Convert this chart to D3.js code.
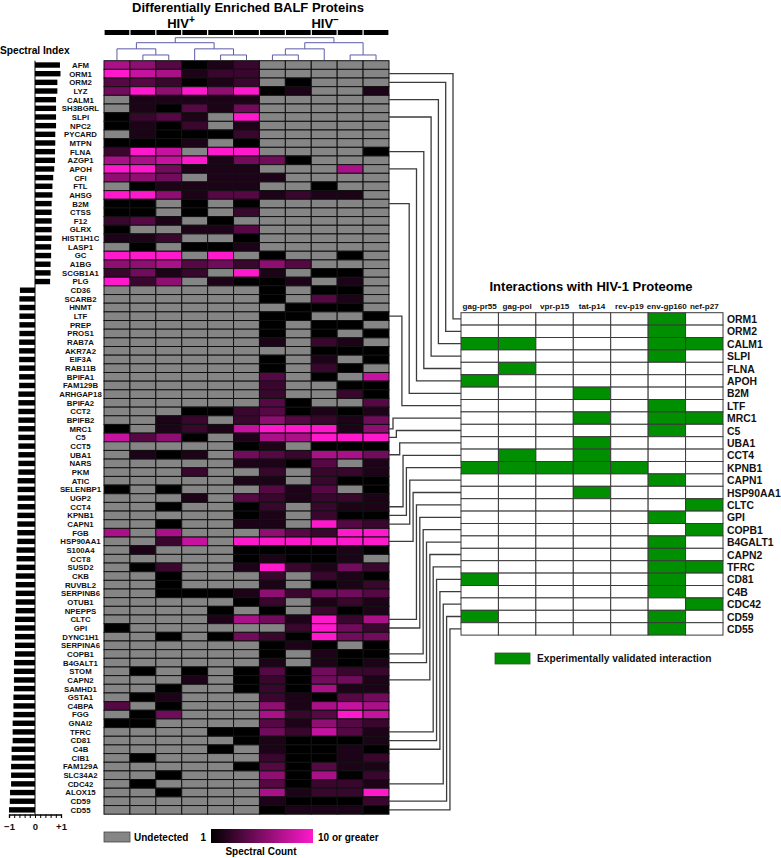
<!DOCTYPE html>
<html><head><meta charset="utf-8">
<script src="https://cdn.jsdelivr.net/npm/d3@7"></script>
<style>
body{margin:0;background:#fff;}
text{font-family:"Liberation Sans",Arial,Helvetica,sans-serif;font-weight:bold;}
</style>
</head><body>
<svg id="c" width="781" height="858"></svg>
<script>
// ---------------- DATA ----------------
const proteins = ["AFM","ORM1","ORM2","LYZ","CALM1","SH3BGRL","SLPI","NPC2","PYCARD","MTPN","FLNA","AZGP1","APOH","CFI","FTL","AHSG","B2M","CTSS","F12","GLRX","HIST1H1C","LASP1","GC","A1BG","SCGB1A1","PLG",
"CD36","SCARB2","HNMT","LTF","PREP","PROS1","RAB7A","AKR7A2","EIF3A","RAB11B","BPIFA1","FAM129B","ARHGAP18","BPIFA2","CCT2","BPIFB2","MRC1","C5","CCT5","UBA1","NARS","PKM","ATIC","SELENBP1","UGP2","CCT4","KPNB1","CAPN1","FGB","HSP90AA1","S100A4",
"CCT8","SUSD2","CKB","RUVBL2","SERPINB6","OTUB1","NPEPPS","CLTC","GPI","DYNC1H1","SERPINA6","COPB1","B4GALT1","STOM","CAPN2","SAMHD1","GSTA1","C4BPA","FGG","GNAI2","TFRC","CD81","C4B","CIB1","FAM129A","SLC34A2","CDC42","ALOX15","CD59","CD55"];

const spectralIndex = [0.96,0.98,0.86,0.86,0.81,0.81,0.81,0.81,0.78,0.78,0.77,0.77,0.74,0.70,0.67,0.67,0.64,0.64,0.64,0.64,0.64,0.62,0.62,0.60,0.60,0.58,
-0.58,-0.60,-0.60,-0.60,-0.60,-0.60,-0.61,-0.61,-0.61,-0.61,-0.61,-0.61,-0.64,-0.64,-0.64,-0.64,-0.64,-0.64,-0.64,-0.64,-0.64,-0.64,-0.67,-0.67,-0.67,-0.67,-0.68,-0.68,-0.68,-0.68,-0.71,
-0.71,-0.71,-0.74,-0.74,-0.74,-0.74,-0.74,-0.77,-0.77,-0.77,-0.77,-0.77,-0.81,-0.81,-0.81,-0.81,-0.83,-0.83,-0.83,-0.86,-0.86,-0.86,-0.90,-0.90,-0.92,-0.92,-0.92,-0.96,-0.97,-1.00];

const samples = ["HIV+ 1","HIV+ 2","HIV+ 3","HIV+ 4","HIV+ 5","HIV+ 6","HIV- 1","HIV- 2","HIV- 3","HIV- 4","HIV- 5"];

// spectral counts per protein (0 = undetected, values >=10 shown as 10)
const spectralCounts = [
[7,6,4,1,2,3,0,0,0,0,0],[10,8,7,2,3,3,0,0,0,0,0],[4,4,3,1,2,3,0,1,0,0,0],[5,10,6,10,6,10,1,2,0,0,2],
[0,2,2,2,2,2,0,0,0,0,0],[0,2,1,4,2,5,0,0,0,0,0],[1,3,4,2,0,10,0,0,0,0,0],[1,2,1,3,0,2,0,0,0,0,0],
[0,2,1,1,1,3,0,0,0,0,0],[1,1,1,2,0,1,0,0,0,0,0],[3,10,8,0,10,10,0,0,0,0,1],[7,7,8,10,2,5,5,1,0,0,0],
[10,10,5,2,2,2,0,0,0,7,0],[6,6,5,0,2,2,2,0,0,0,0],[0,1,2,2,2,2,0,0,1,0,0],[10,10,6,2,4,4,2,3,2,2,0],
[1,1,0,1,0,1,0,0,0,0,0],[1,1,0,1,0,3,0,0,0,0,0],[3,4,2,0,1,0,0,0,0,0,0],[1,0,0,2,2,4,0,0,0,0,0],
[2,2,3,0,0,1,0,0,0,0,0],[0,1,0,1,1,2,0,0,0,0,0],[10,10,10,0,10,0,1,0,0,1,0],[6,6,7,4,5,3,6,4,0,0,0],
[3,5,2,3,0,10,2,0,1,1,0],[10,3,6,0,2,1,1,2,0,2,0],
[0,0,0,0,0,0,1,0,1,1,0],[0,0,0,0,0,0,1,0,4,2,0],[0,0,0,0,0,0,0,1,1,1,0],[0,0,0,0,0,0,1,1,0,0,1],
[0,0,0,0,0,0,1,0,1,1,0],[0,0,0,0,0,0,1,0,1,0,1],[0,0,0,0,0,0,2,0,3,2,0],[0,0,0,0,0,0,0,0,1,1,1],
[0,0,0,0,0,0,1,0,2,0,1],[0,0,0,0,0,0,1,0,3,1,0],[0,0,0,0,0,0,4,0,1,0,8],[0,0,0,0,0,0,3,0,0,1,1],
[0,0,0,0,0,0,3,0,0,3,1],[0,0,0,0,0,0,4,1,0,0,4],[0,0,0,1,1,3,4,1,2,1,2],[0,0,2,3,0,3,6,4,3,2,5],
[1,0,2,3,2,8,10,10,10,2,6],[8,4,6,1,0,2,7,7,10,10,10],[0,0,0,0,0,1,2,0,1,1,1],[0,2,1,2,0,5,4,3,7,7,5],
[0,0,0,0,0,2,2,1,4,0,2],[0,0,0,3,0,0,3,0,3,3,2],[0,0,0,0,0,2,2,0,3,1,1],[1,0,1,0,0,0,4,2,4,0,1],
[0,0,0,2,0,4,3,2,3,3,2],[0,0,1,0,0,1,3,0,3,2,2],[0,0,0,0,0,1,2,0,3,1,1],[0,0,1,0,0,2,2,0,10,4,3],
[7,0,7,0,0,0,6,4,3,10,10],[0,0,3,8,0,10,10,10,10,10,10],[0,2,0,0,0,1,1,1,1,2,1],
[0,0,0,0,0,1,2,1,1,2,0],[0,1,3,0,0,2,10,3,2,5,3],[0,0,1,0,0,0,3,0,3,2,1],[0,0,1,0,0,0,2,0,1,2,3],
[0,0,1,1,1,2,6,3,5,5,4],[0,0,0,0,0,1,3,0,2,3,2],[0,0,0,0,1,0,1,0,3,1,2],[0,0,0,0,2,7,5,2,10,3,7],
[1,0,0,0,0,0,0,3,10,5,3],[0,0,1,0,1,5,3,1,10,5,5],[0,0,0,0,0,0,1,2,1,0,1],[0,0,0,0,0,0,1,0,2,1,1],
[0,0,0,0,0,0,2,0,2,1,2],[0,1,0,1,0,1,4,1,5,3,3],[0,0,0,2,0,1,3,1,5,5,2],[0,0,1,0,0,1,3,1,7,2,2],
[0,1,2,0,0,0,3,2,1,4,5],[4,0,1,0,0,0,6,2,7,8,7],[0,1,5,0,0,0,7,3,4,10,8],[1,1,0,0,0,0,4,2,6,4,3],
[0,0,0,0,1,1,5,3,8,4,2],[0,0,0,0,0,1,2,1,1,1,2],[0,0,0,0,1,0,2,1,1,2,1],[0,1,0,0,0,0,3,1,1,2,3],
[0,0,0,0,0,1,4,1,4,2,2],[0,0,1,0,0,0,6,1,7,1,3],[0,1,0,0,0,0,4,1,3,3,2],[0,0,1,0,0,0,7,2,3,3,10],
[0,0,0,0,0,0,2,1,1,1,3],[0,0,0,0,0,0,1,2,2,2,1]
];

// sample clustering (leaf = sample index, h = merge distance)
const dendrogram = {h:4, children:[
  {h:3.1, children:[
    {h:2, children:[{leaf:0},{h:0.9, children:[{leaf:1},{leaf:2}]}]},
    {h:2, children:[{leaf:3},{h:0.9, children:[{leaf:4},{leaf:5}]}]}
  ]},
  {h:3.1, children:[
    {h:2, children:[{h:0.9, children:[{leaf:6},{leaf:7}]},{leaf:8}]},
    {h:0.9, children:[{leaf:9},{leaf:10}]}
  ]}
]};

const hivProteins = ["gag-pr55","gag-pol","vpr-p15","tat-p14","rev-p19","env-gp160","nef-p27"];
const interactionProteins = ["ORM1","ORM2","CALM1","SLPI","FLNA","APOH","B2M","LTF","MRC1","C5","UBA1","CCT4","KPNB1","CAPN1","HSP90AA1","CLTC","GPI","COPB1","B4GALT1","CAPN2","TFRC","CD81","C4B","CDC42","CD59","CD55"];
const interactions = [
["env-gp160"],["env-gp160"],["gag-pr55","gag-pol","env-gp160","nef-p27"],["env-gp160"],["gag-pol"],["gag-pr55"],
["tat-p14"],["env-gp160"],["tat-p14","env-gp160","nef-p27"],["env-gp160"],["tat-p14"],["gag-pol","tat-p14"],
["gag-pr55","gag-pol","vpr-p15","tat-p14","rev-p19"],["env-gp160"],["tat-p14"],["nef-p27"],["env-gp160"],["nef-p27"],
["env-gp160"],["env-gp160"],["env-gp160","nef-p27"],["gag-pr55","env-gp160"],["env-gp160"],["nef-p27"],
["gag-pr55","env-gp160"],["env-gp160"]
];

const indexTicks = [-1,-0.8,-0.6,-0.4,-0.2,0,0.2,0.4,0.6,0.8,1];
const indexTickLabels = {"-1":"\u22121","0":"0","1":"+1"};

// ---------------- DRAW ----------------
const svg = d3.select("#c");
const GRAY = "#858585", MAG = "#ff19cc", GREEN = "#008f00";

const x = d3.scaleBand().domain(d3.range(samples.length)).range([104, 389]);
const y = d3.scaleBand().domain(proteins).range([60.7, 814.2]);
const color = d3.scaleLinear().domain([1,10]).range(["#000000", MAG]).clamp(true);
const siX = d3.scaleLinear().domain([-1,1]).range([9,61]);

// title
svg.append("text").attr("x",248).attr("y",12).attr("text-anchor","middle").attr("font-size",13)
  .text("Differentially Enriched BALF Proteins");
const hp = svg.append("text").attr("x",181).attr("y",28).attr("text-anchor","middle").attr("font-size",13);
hp.append("tspan").text("HIV");
hp.append("tspan").attr("dy",-5).attr("font-size",10).text("+");
const hn = svg.append("text").attr("x",325).attr("y",28).attr("text-anchor","middle").attr("font-size",13);
hn.append("tspan").text("HIV");
hn.append("tspan").attr("dy",-5).attr("font-size",10).text("\u2013");

// group header bars
svg.append("g").selectAll("rect").data(samples).join("rect")
  .attr("x",(d,i)=>x(i)+0.6).attr("width",x.bandwidth()-1.2)
  .attr("y",30).attr("height",5).attr("fill","#000");

// dendrogram
const hier = d3.hierarchy(dendrogram);
const dh = d3.scaleLinear().domain([0,4]).range([60,37.7]);
hier.eachAfter(n=>{
  if (n.data.leaf!==undefined){ n.px = x(n.data.leaf)+x.bandwidth()/2; n.py = dh(0); }
  else { n.px = d3.mean(n.children, c=>c.px); n.py = dh(n.data.h); }
});
const dg = svg.append("g").attr("fill","none").attr("stroke","#5b5ba8").attr("stroke-width",1);
hier.descendants().filter(n=>n.children).forEach(n=>{
  const [a,b] = n.children;
  dg.append("path").attr("d",`M${a.px},${a.py}V${n.py}H${b.px}V${b.py}`);
});

// heatmap
const hm = svg.append("g");
proteins.forEach((p,ri)=>{
  hm.selectAll(null).data(spectralCounts[ri]).join("rect")
    .attr("x",(d,i)=>x(i)).attr("y",y(p)).attr("width",x.bandwidth()).attr("height",y.bandwidth())
    .attr("fill",d=> d===0 ? GRAY : color(d))
    .attr("stroke","#111").attr("stroke-width",1);
});

// row labels
svg.append("g").selectAll("text").data(proteins).join("text")
  .attr("x",80.5).attr("y",d=>y(d)+y.bandwidth()/2+2.9).attr("text-anchor","middle")
  .attr("font-size",7.8).attr("fill","#111").text(d=>d);

// spectral index
svg.append("text").attr("x",0).attr("y",54).attr("font-size",10.2).text("Spectral Index");
svg.append("g").selectAll("rect").data(proteins).join("rect")
  .attr("x",(d,i)=>Math.min(siX(0),siX(spectralIndex[i])))
  .attr("width",(d,i)=>Math.abs(siX(spectralIndex[i])-siX(0)))
  .attr("y",d=>y(d)+y.bandwidth()/2-2.7).attr("height",5.4).attr("fill","#000");
svg.append("line").attr("x1",siX(0)).attr("x2",siX(0)).attr("y1",y.range()[0]).attr("y2",814)
  .attr("stroke","#000").attr("stroke-width",1);
const ax = svg.append("g").attr("transform","translate(0,814.5)")
  .call(d3.axisBottom(siX).tickValues(indexTicks).tickSizeOuter(0).tickSize(3.5)
     .tickFormat(d=> indexTickLabels[String(Math.round(d*10)/10)]||""));
ax.select(".domain").attr("stroke","#000").attr("stroke-width",1.3);
ax.selectAll(".tick line").attr("stroke","#000").attr("stroke-width",1);
ax.selectAll(".tick text").attr("font-size",9.5).attr("font-family","Liberation Sans, Arial, sans-serif")
  .attr("font-weight","bold").attr("fill","#111").attr("dy","0.9em");

// legend
const defs = svg.append("defs");
const lg = defs.append("linearGradient").attr("id","grad");
d3.range(0,1.01,0.1).forEach(t=>lg.append("stop").attr("offset",t).attr("stop-color",color(1+9*t)));
svg.append("rect").attr("x",104).attr("y",832).attr("width",26).attr("height",10).attr("fill",GRAY).attr("stroke","#444").attr("stroke-width",0.8);
svg.append("text").attr("x",134).attr("y",840.5).attr("font-size",10).text("Undetected");
svg.append("text").attr("x",206).attr("y",840.5).attr("text-anchor","end").attr("font-size",10).text("1");
svg.append("rect").attr("x",211).attr("y",829).attr("width",102).attr("height",14).attr("fill","url(#grad)");
svg.append("text").attr("x",318).attr("y",840.5).attr("font-size",10).text("10 or greater");
svg.append("text").attr("x",261).attr("y",855).attr("text-anchor","middle").attr("font-size",10).text("Spectral Count");

// interaction table
const tx = d3.scaleBand().domain(hivProteins).range([461, 723]);
const ty = d3.scaleBand().domain(interactionProteins).range([312.7, 635.1]);
svg.append("text").attr("x",591).attr("y",291).attr("text-anchor","middle").attr("font-size",13)
  .text("Interactions with HIV-1 Proteome");
svg.append("g").selectAll("text").data(hivProteins).join("text")
  .attr("x",d=>tx(d)+tx.bandwidth()/2).attr("y",308.5).attr("text-anchor","middle")
  .attr("font-size",8.1).attr("fill","#111").text(d=>d);
const tg = svg.append("g");
interactionProteins.forEach((p,ri)=>{
  tg.selectAll(null).data(hivProteins).join("rect")
    .attr("x",d=>tx(d)).attr("y",ty(p)).attr("width",tx.bandwidth()).attr("height",ty.bandwidth())
    .attr("fill",d=> interactions[ri].includes(d) ? GREEN : "#fff")
    .attr("stroke","#3a3a3a").attr("stroke-width",1);
});
svg.append("g").selectAll("text").data(interactionProteins).join("text")
  .attr("x",727).attr("y",d=>ty(d)+ty.bandwidth()/2+4).attr("font-size",10.4).attr("fill","#111").text(d=>d);

svg.append("rect").attr("x",495).attr("y",653).attr("width",35).attr("height",11).attr("fill",GREEN).attr("stroke","#2a5a2a").attr("stroke-width",0.8);
svg.append("text").attr("x",537).attr("y",662).attr("font-size",10.2).attr("fill","#111").text("Experimentally validated interaction");

// connectors
const cg = svg.append("g").attr("fill","none").attr("stroke","#3c3c3c").attr("stroke-width",1.3);
let down=0, up=0;
interactionProteins.forEach(p=>{
  const y1 = y(p)+y.bandwidth()/2, y2 = ty(p)+ty.bandwidth()/2;
  let ex;
  if (y2>y1){ ex = 453 - down*7.3; down++; } else { ex = 393 + up*3.35; up++; }
  cg.append("path").attr("d",`M389,${y1}H${ex}V${y2}H461`);
});
</script>
</body></html>
